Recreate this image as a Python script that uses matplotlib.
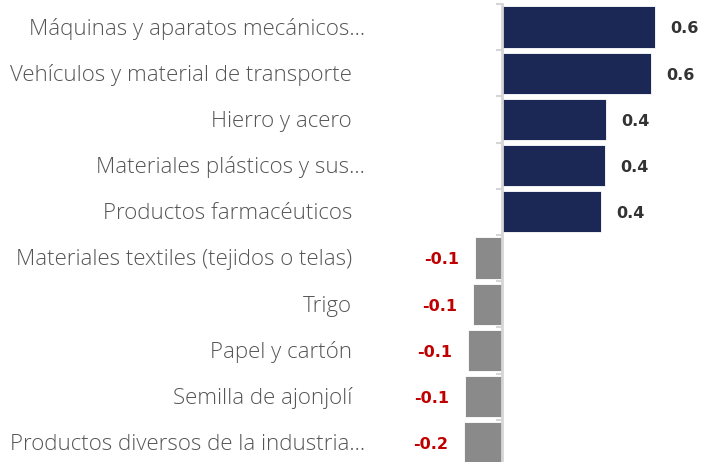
import matplotlib
matplotlib.use("Agg")
import matplotlib.pyplot as plt
from matplotlib.transforms import blended_transform_factory

# categories and change values (top to bottom)
categories = [
    "Máquinas y aparatos mecánicos...",
    "Vehículos y material de transporte",
    "Hierro y acero",
    "Materiales plásticos y sus...",
    "Productos farmacéuticos",
    "Materiales textiles (tejidos o telas)",
    "Trigo",
    "Papel y cartón",
    "Semilla de ajonjolí",
    "Productos diversos de la industria...",
]
values = [0.612, 0.596, 0.416, 0.412, 0.396, -0.108, -0.116, -0.136, -0.148, -0.152]

navy = "#1b2856"
grey = "#8a8a8a"
red = "#c00000"

fig = plt.figure(figsize=(7.04, 4.62), dpi=100)
ax = fig.add_axes([373 / 704, 0, 331 / 704, 1])

px = 250.0  # pixels per unit on x
ax.set_xlim(-(502 - 373) / px, (704 - 502) / px)
row = 46.2
ax.set_ylim(462 / row - 27 / row, -27 / row)

ypos = list(range(len(categories)))
colors = [navy if v > 0 else grey for v in values]
ax.barh(ypos, values, height=0.89, color=colors, edgecolor="white", linewidth=0.6, zorder=2)

# axis line at zero with small ticks between rows
for s in ["top", "right", "bottom"]:
    ax.spines[s].set_visible(False)
ax.spines["left"].set_position(("data", 0))
ax.spines["left"].set_color("#d6d6d6")
ax.spines["left"].set_linewidth(2)
ax.spines["left"].set_bounds(-0.5, 462 / row)
ax.set_xticks([])
ax.set_yticks([])
ax.set_yticks([i - 0.5 for i in ypos], minor=True)
ax.tick_params(axis="y", which="minor", length=4, width=1.5, color="#d6d6d6", labelleft=False)

# value labels
for y, v in zip(ypos, values):
    txt = f"{v:.1f}"
    if v > 0:
        ax.text(v + 15 / px, y + 0.04, txt, ha="left", va="center", fontsize=11.5,
                fontweight="bold", color="#333333", family="DejaVu Sans")
    else:
        ax.text(v - 16 / px, y + 0.04, txt, ha="right", va="center", fontsize=11.5,
                fontweight="bold", color=red, family="DejaVu Sans")

# category labels
trans = blended_transform_factory(fig.transFigure, ax.transData)
for y, lab in zip(ypos, categories):
    right = 365 if lab.endswith("...") else 352
    fig.text(right / 704, y + 0.04, lab, transform=trans, ha="right", va="center",
             fontsize=16, color="#555555", family="Open Sans", fontweight="light")

fig.savefig("out.png", dpi=100)
